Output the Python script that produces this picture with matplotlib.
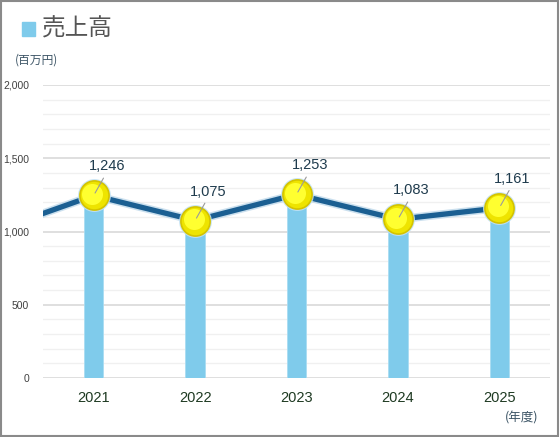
import matplotlib
matplotlib.use("Agg")
import matplotlib.pyplot as plt
import matplotlib.patheffects as pe
from matplotlib.patches import Rectangle

# données (百万円)
annees = ["2021", "2022", "2023", "2024", "2025"]
ventes = [1246, 1075, 1253, 1083, 1161]
vente_precedente = 1000  # point hors axe (2020), seul le segment entrant est visible
etiquettes = ["1,246", "1,075", "1,253", "1,083", "1,161"]
graduations_y = [0, 500, 1000, 1500, 2000]
etiquettes_y = ["0", "500", "1,000", "1,500", "2,000"]

POLICE = ["Liberation Sans", "Noto Sans CJK JP", "DejaVu Sans"]
POLICE_JP = ["Noto Sans CJK JP", "DejaVu Sans"]
plt.rcParams["font.family"] = POLICE

fig = plt.figure(figsize=(5.6, 4.37), dpi=100)
fig.patches.append(Rectangle((0.002, 0.003), 0.994, 0.994, transform=fig.transFigure,
                             fill=False, edgecolor="#8a8a8a", linewidth=1.5))

ax = fig.add_axes([43 / 560, 1 - 378 / 437, (550 - 43) / 560, (378 - 85) / 437])
x = list(range(len(annees)))

# grille
for v in range(100, 2000, 100):
    if v % 500:
        ax.axhline(v, color="#f0f0f0", linewidth=1, zorder=0)
for v in graduations_y:
    ax.axhline(v, color="#d9d9d9", linewidth=1.2, zorder=0)

ax.bar(x, ventes, width=0.19, color="#7fcbeb", edgecolor="#a9dcf2", linewidth=0.6, zorder=2)

xs_ligne = [-1] + x
ys_ligne = [vente_precedente] + ventes
ax.plot(xs_ligne, ys_ligne, color="#1b5f92", linewidth=3.8, solid_capstyle="butt", zorder=3,
        path_effects=[pe.Stroke(linewidth=6, foreground="#b5d3e8", alpha=0.7), pe.Normal()])

# marqueurs jaunes avec halo
ax.scatter(x, ventes, s=560, color="#c4e2f4", alpha=0.9, zorder=4, linewidths=0)
ax.scatter(x, ventes, s=440, color="#eee400", edgecolors="#d4c300", linewidths=1.2, zorder=5)
ax.scatter([i - 0.015 for i in x], [v + 12 for v in ventes], s=230, color="#ffff30",
           linewidths=0, zorder=6)

for i, (v, t) in enumerate(zip(ventes, etiquettes)):
    ax.annotate("", xy=(i, v), xytext=(i + 0.11, v + 135),
                arrowprops=dict(arrowstyle="-", color="#9a9a9a", lw=0.8), zorder=7)
    ax.text(i + 0.13, v + 150, t, ha="center", va="bottom", fontsize=10.5,
            color="#1f3b4d", zorder=8)

ax.set_xlim(-0.5, len(annees) - 0.5)
ax.set_ylim(0, 2000)
ax.set_yticks(graduations_y)
ax.set_yticklabels(etiquettes_y, fontsize=7.5, color="#404040")
ax.set_xticks(x)
ax.set_xticklabels(annees, fontsize=10.5, color="#1e3a22")
ax.tick_params(length=0)
ax.tick_params(axis="y", pad=10)
ax.tick_params(axis="x", pad=9)
for s in ax.spines.values():
    s.set_visible(False)

fig.patches.append(Rectangle((22 / 560, 1 - 36 / 437), 13 / 560, 14 / 437,
                             transform=fig.transFigure, color="#7fcbeb"))
fig.text(42 / 560, 1 - 29 / 437, "売上高", fontsize=17, color="#555555",
         family=POLICE_JP, va="center", ha="left")
fig.text(15 / 560, 1 - 60 / 437, "(百万円)", fontsize=8.5, color="#3d5566",
         family=POLICE_JP, va="center", ha="left")
fig.text(538 / 560, 1 - 418 / 437, "(年度)", fontsize=9, color="#3d5566",
         family=POLICE_JP, va="center", ha="right")

fig.savefig("out.png", dpi=100)
